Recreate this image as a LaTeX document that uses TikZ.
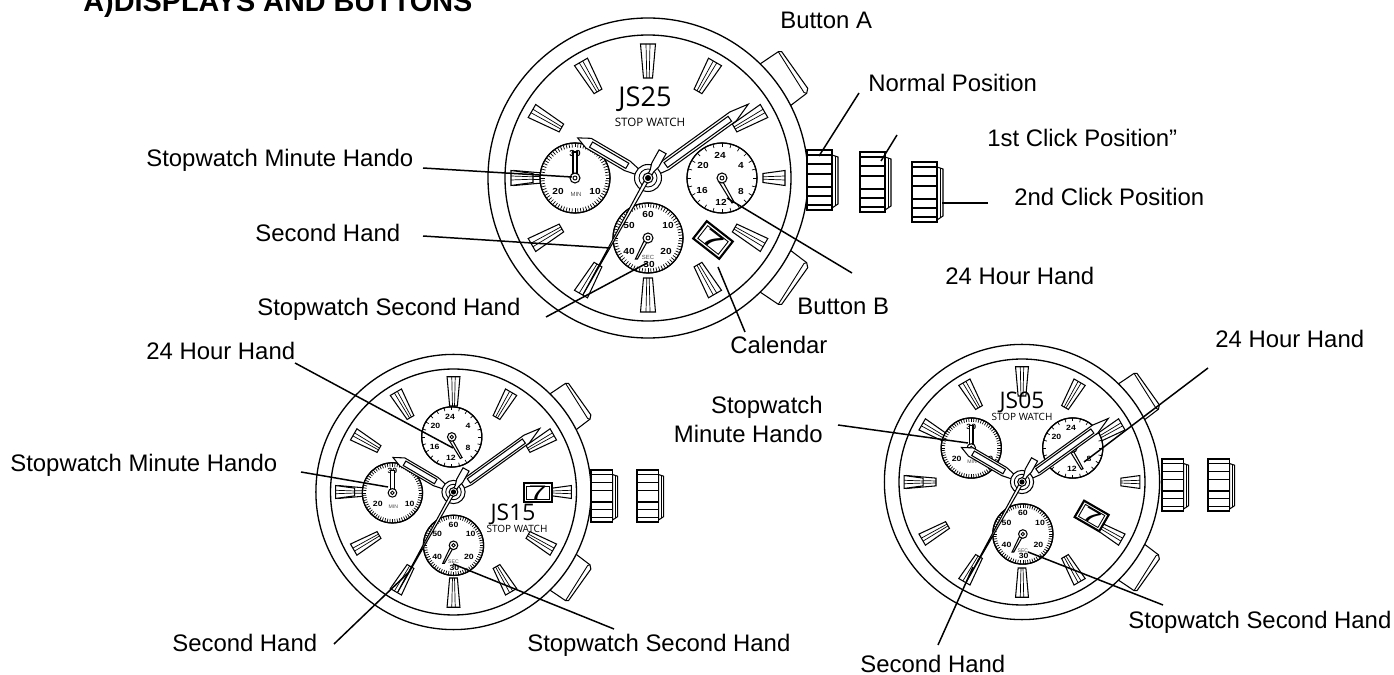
\documentclass[tikz,border=0pt]{standalone}
\usepackage{fontspec}
\setmainfont{Liberation Sans}
\newfontfamily\logofont{Open Sans}
\usetikzlibrary{positioning}

\tikzset{
  label/.style={inner sep=0pt, anchor=base west, font=\fontsize{13.6}{16}\selectfont},
  leader/.style={line width=0.85pt},
  lineart/.style={line width=0.6pt, fill=white},
  dialnum/.style={inner sep=0pt, xscale=1.15, font=\fontsize{5}{6}\selectfont\bfseries},
  dialsmall/.style={inner sep=0pt, text=black!70, font=\fontsize{3.4}{4}\selectfont},
  logotext/.style={inner sep=0pt, anchor=base, text depth=0pt},
}

% one baton on the dial
\newcommand{\drawmark}[3]{%
  \begin{scope}[rotate=#1]
    \draw[lineart] (#2,-4.5) -- (#3,-7.5) -- (#3,7.5) -- (#2,4.5) -- cycle;
    \draw[line width=0.4pt] (#2,-1.2) -- (#3,-2);
    \draw[line width=0.4pt] (#2,1.2) -- (#3,2);
  \end{scope}}

% case, side buttons and batons
\newcommand{\drawcase}{%
  \foreach \yf in {1,-1} {
    \begin{scope}[yscale=\yf]
      \draw[lineart] (112,114) -- (130.3,126.3) -- (133.7,126.3) -- (159.7,89.7) -- (158.7,84.7) -- (142,72) -- cycle;
      \draw[line width=0.5pt] (130.3,126.3) -- (156,85.5) -- (158.7,84.7);
    \end{scope}
  }
  \draw[lineart, line width=0.75pt] (0,0) circle (160);
  \draw[line width=0.75pt] (0,0) circle (143);
  \foreach \a in {30,60,...,330} {
    \drawmark{\a}{100}{134}
  }
  \drawmark{0}{115}{137}
  \drawmark{180}{115}{137}
}

\newcommand{\drawtickring}[2]{%
  \foreach \a in {0,#1,...,359} {
    \draw[line width=0.4pt] (\a:35) -- (\a:#2);
  }
  \draw[line width=0.7pt] (0,0) circle (35);
}

\newcommand{\drawhub}{%
  \draw[lineart] (0,0) circle (5);
  \draw[line width=0.5pt] (0,0) circle (2);
}

\newcommand{\drawsubmin}[2]{%
  \begin{scope}[shift={(#1,#2)}]
    \draw[lineart] (0,0) circle (35);
    \drawtickring{5}{30.5}
    \node[dialnum] (minthirty) at (0,25) {30};
    \node[dialnum] (mintwenty) at (-17,-13) {20};
    \node[dialnum] (minten) at (20,-13) {10};
    \node[dialsmall] (minword) at (1,-16) {MIN};
    \draw[lineart] (-2,3) -- (-2,26) -- (2,26) -- (2,3);
    \drawhub
  \end{scope}}

\newcommand{\drawsubsec}[2]{%
  \begin{scope}[shift={(#1,#2)}]
    \draw[lineart] (0,0) circle (35);
    \drawtickring{5}{30.5}
    \node[dialnum] (secsixty) at (0,24) {60};
    \node[dialnum] (secten) at (20,13) {10};
    \node[dialnum] (sectwenty) at (18,-13) {20};
    \node[dialnum] (secthirty) at (1,-26) {30};
    \node[dialnum] (secforty) at (-19,-13) {40};
    \node[dialnum] (secfifty) at (-19,13) {50};
    \node[dialsmall] (secword) at (0,-19) {SEC};
    \draw[lineart] (-4,-3) -- (-12.6,-21) -- (-10.6,-21) -- (-1,-4) -- cycle;
    \drawhub
  \end{scope}}

\newcommand{\drawsubhour}[2]{%
  \begin{scope}[shift={(#1,#2)}]
    \draw[lineart] (0,0) circle (35);
    \drawtickring{15}{31}
    \node[dialnum] (hourtf) at (-2,23) {24};
    \node[dialnum] (hourfour) at (19,13) {4};
    \node[dialnum] (houreight) at (19,-13) {8};
    \node[dialnum] (hourtw) at (-1,-24) {12};
    \node[dialnum] (hoursix) at (-20,-12) {16};
    \node[dialnum] (hourtwenty) at (-19,13) {20};
    \draw[lineart] (1,-4) -- (12,-24) -- (10,-25) -- (-3,-4) -- cycle;
    \drawhub
  \end{scope}}

\newcommand{\drawdate}[3]{%
  \begin{scope}[shift={(#1,#2)},rotate=#3]
    \draw[lineart, line width=1.2pt] (-16.5,-11) rectangle (16.5,11);
    \draw[line width=0.5pt] (-13,-8) rectangle (13,8);
    \node[inner sep=0pt, font=\fontsize{13}{13}\selectfont, xscale=1.7] (datenum) at (0,0) {7};
  \end{scope}}

% the three hands, on top of everything else
\newcommand{\drawhands}{%
  \begin{scope}[rotate=149.6]
    \draw[lineart] (12,-3) -- (24,-5.5) -- (69,-5.5) -- (81,1) -- (69,5.5) -- (24,5.5) -- (12,3) -- cycle;
    \draw[lineart] (24,-3) rectangle (66,3);
  \end{scope}
  \begin{scope}[rotate=35.9]
    \draw[lineart] (10,-3) -- (22,-5.5) -- (105,-5.5) -- (124.6,1) -- (105,5.5) -- (22,5.5) -- (10,3) -- cycle;
    \draw[lineart] (22,-3) rectangle (101,3);
  \end{scope}
  \draw[lineart] (0,0) circle (13.5);
  \draw[line width=0.5pt] (0,0) circle (9);
  \begin{scope}[rotate=240.9]
    \draw[lineart] (-30,-4) -- (-15,-4) -- (-8,-2) -- (134,0) -- (-8,2) -- (-15,4) -- (-30,4) -- cycle;
  \end{scope}
  \draw[lineart] (0,0) circle (5);
  \fill (0,0) circle (3);
}

\newcommand{\drawcrown}[3]{%
  \begin{scope}[shift={(#1,#2)},scale=#3]
    \draw[lineart] (25,25) -- (31,23) -- (31,-24) -- (25,-28) -- cycle;
    \draw[line width=0.5pt] (28,24) -- (28,-26);
    \draw[lineart, line width=0.9pt] (0,-30) rectangle (25,30);
    \foreach \yb in {25,16,6,-7,-16,-25} {
      \draw[line width=0.6pt] (0,\yb) -- (25,\yb);
    }
  \end{scope}}

\begin{document}
\begin{tikzpicture}[x=0.02cm, y=0.02cm]
  \useasboundingbox (0,0) rectangle (1394,-675);

  % top watch
  \begin{scope}[shift={(648,-178)}, transform shape]
    \drawcase
    \drawsubmin{-73}{0}
    \drawsubsec{0}{-60}
    \drawsubhour{74}{0}
    \drawdate{65}{-62}{-38}
  \end{scope}
  \node[logotext, font=\logofont\fontsize{15.5}{16}\selectfont] (logoA) at (645,-107) {JS25};
  \node[inner sep=0pt, font=\logofont\fontsize{6.6}{7}\selectfont] (subA) at (650,-122) {STOP WATCH};
  \begin{scope}[shift={(648,-178)}, transform shape]
    \drawhands
  \end{scope}
  \drawcrown{807}{-180}{1}
  \drawcrown{860}{-182}{1}
  \drawcrown{912}{-192}{1}

  % lower left watch
  \begin{scope}[shift={(453.5,-492)}, scale=0.86, transform shape]
    \drawcase
    \drawsubhour{-2}{64}
    \drawsubmin{-71}{-1}
    \drawsubsec{0}{-62}
    \drawdate{98}{-1}{0}
  \end{scope}
  \node[logotext, font=\logofont\fontsize{13}{14}\selectfont] (logoB) at (513,-521) {JS15};
  \node[inner sep=0pt, font=\logofont\fontsize{5.7}{6}\selectfont] (subB) at (517,-529) {STOP WATCH};
  \begin{scope}[shift={(453.5,-492)}, scale=0.86, transform shape]
    \drawhands
  \end{scope}
  \drawcrown{591}{-496}{0.86}
  \drawcrown{637}{-496}{0.86}

  % lower right watch
  \begin{scope}[shift={(1022,-482)}, scale=0.86, transform shape]
    \drawcase
    \drawsubmin{-59}{39.5}
    \drawsubhour{59}{39.5}
    \drawsubsec{1}{-60.5}
    \drawdate{81}{-39.5}{-30}
  \end{scope}
  \node[logotext, font=\logofont\fontsize{13}{14}\selectfont] (logoC) at (1022,-409) {JS05};
  \node[inner sep=0pt, font=\logofont\fontsize{5.7}{6}\selectfont] (subC) at (1022,-417) {STOP WATCH};
  \begin{scope}[shift={(1022,-482)}, scale=0.86, transform shape]
    \drawhands
  \end{scope}
  \drawcrown{1162}{-485}{0.86}
  \drawcrown{1208}{-485}{0.86}

  % labels
  \node[label, font=\fontsize{16.4}{18}\selectfont\bfseries] (title) at (83,-12) {A)DISPLAYS AND BUTTONS};
  \node[label] (minA) at (146,-167) {Stopwatch Minute Hando};
  \node[label] (secA) at (255,-242) {Second Hand};
  \node[label] (stopA) at (257,-316) {Stopwatch Second Hand};
  \node[label] (buttonA) at (780,-29) {Button A};
  \node[label] (buttonB) at (797,-315) {Button B};
  \node[label] (calA) at (730,-354) {Calendar};
  \node[label] (normal) at (868,-92) {Normal Position};
  \node[label] (firstclick) at (987,-147) {1st Click Position”};
  \node[label] (secondclick) at (1014,-206) {2nd Click Position};
  \node[label] (hourA) at (945,-285) {24 Hour Hand};
  \node[label] (hourB) at (146,-360) {24 Hour Hand};
  \node[label] (minB) at (10,-472) {Stopwatch Minute Hando};
  \node[label] (secB) at (172,-651) {Second Hand};
  \node[label] (stopB) at (527,-651) {Stopwatch Second Hand};
  \node[label] (hourC) at (1215,-348) {24 Hour Hand};
  \node[label, anchor=base east] (minCa) at (823,-414) {Stopwatch};
  \node[label, anchor=base east] (minCb) at (823,-443) {Minute Hando};
  \node[label, text depth=0pt] (secC) at (860,-672) {Second Hand};
  \node[label] (stopC) at (1128,-628) {Stopwatch Second Hand};

  % leader ends
  \coordinate (minAs) at (423,-168);
  \coordinate (minAe) at (572,-177);
  \coordinate (secAs) at (423,-236);
  \coordinate (secAe) at (610,-248);
  \coordinate (stopAs) at (546,-317);
  \coordinate (stopAe) at (647,-263);
  \coordinate (calAs) at (745,-332);
  \coordinate (calAe) at (718,-267);
  \coordinate (normals) at (859,-93);
  \coordinate (normale) at (819,-156);
  \coordinate (firsts) at (897,-135);
  \coordinate (firste) at (881,-161);
  \coordinate (seconds) at (988,-203);
  \coordinate (seconde) at (942,-203);
  \coordinate (hourAs) at (852,-273);
  \coordinate (hourAe) at (727,-198);
  \coordinate (hourBs) at (295,-363);
  \coordinate (hourBe) at (453,-448);
  \coordinate (minBs) at (301,-472);
  \coordinate (minBe) at (388,-487);
  \coordinate (secBs) at (334,-644);
  \coordinate (secBe) at (408,-573);
  \coordinate (stopBs) at (614,-629);
  \coordinate (stopBe) at (453,-564);
  \coordinate (hourCs) at (1208,-368);
  \coordinate (hourCe) at (1084,-462);
  \coordinate (minCs) at (838,-425);
  \coordinate (minCe) at (968,-443);
  \coordinate (secCs) at (938,-645);
  \coordinate (secCe) at (973,-567);
  \coordinate (stopCs) at (1163,-605);
  \coordinate (stopCe) at (1028,-552);

  \draw[leader] (minAs) -- (minAe);
  \draw[leader] (secAs) -- (secAe);
  \draw[leader] (stopAs) -- (stopAe);
  \draw[leader] (calAs) -- (calAe);
  \draw[leader] (normals) -- (normale);
  \draw[leader] (firsts) -- (firste);
  \draw[leader] (seconds) -- (seconde);
  \draw[leader] (hourAs) -- (hourAe);
  \draw[leader] (hourBs) -- (hourBe);
  \draw[leader] (minBs) -- (minBe);
  \draw[leader] (secBs) -- (secBe);
  \draw[leader] (stopBs) -- (stopBe);
  \draw[leader] (hourCs) -- (hourCe);
  \draw[leader] (minCs) -- (minCe);
  \draw[leader] (secCs) -- (secCe);
  \draw[leader] (stopCs) -- (stopCe);
\end{tikzpicture}
\end{document}
